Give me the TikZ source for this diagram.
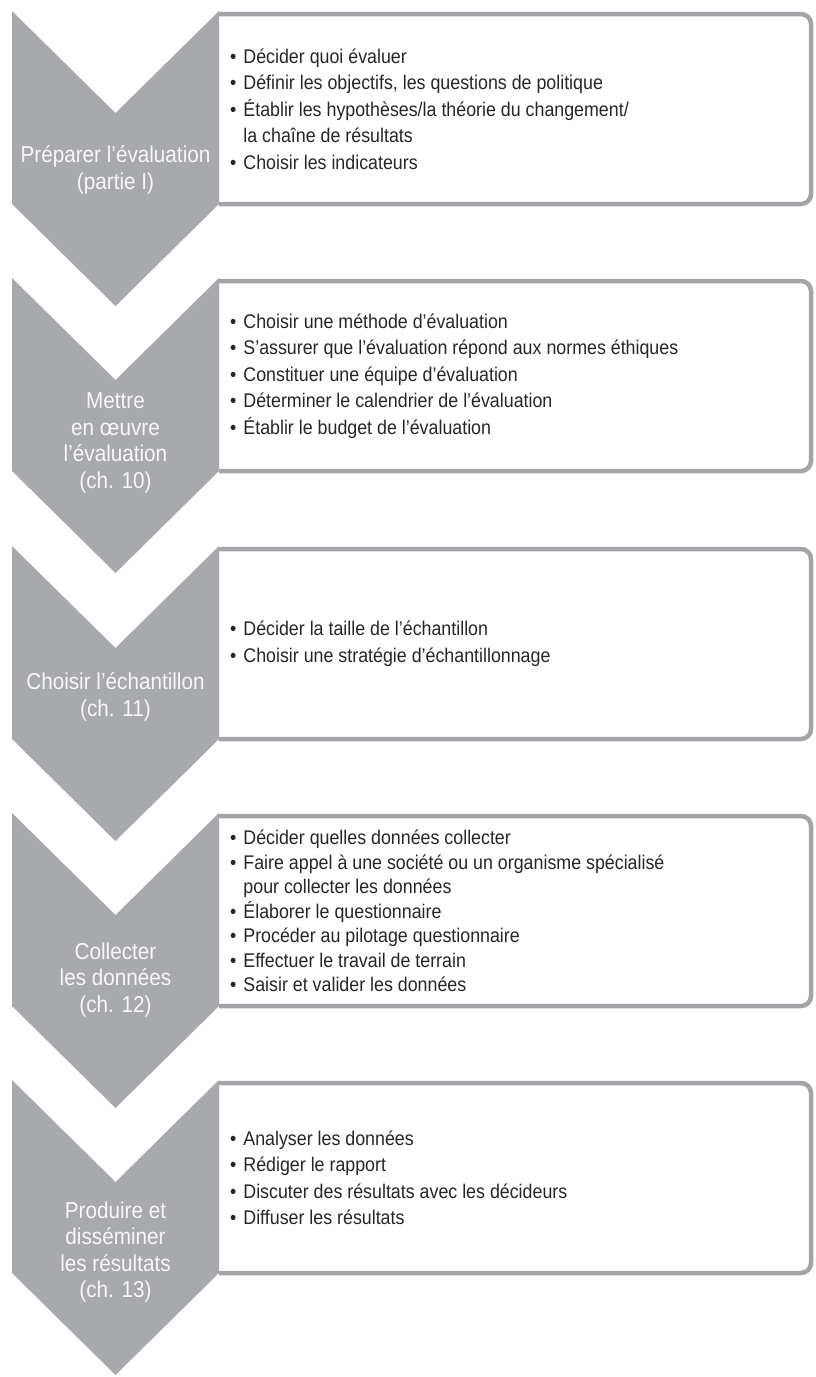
\documentclass[tikz,border=0pt]{standalone}
\usepackage{fontspec}
\setmainfont[FakeStretch=0.9]{Liberation Sans}
\definecolor{stagegray}{RGB}{167,169,172}
\definecolor{framegray}{RGB}{162,164,167}
\definecolor{listtext}{RGB}{40,37,38}
\newcommand{\bul}{\textbullet\hspace{7pt}}
\newcommand{\contline}{\hphantom{\textbullet\hspace{7pt}}}
\tikzset{
    chevron/.style={fill=stagegray, draw=none},
    stageframe/.style={draw=framegray, line width=4.5pt, rounded corners=10pt},
    stagelabel/.style={text=white!97!black, align=center, inner sep=0pt, font=\fontsize{23}{26.5}\selectfont},
    steplist/.style={text=listtext, align=left, anchor=west, inner sep=0pt, font=\fontsize{19.8}{26.5}\selectfont},
}

\begin{document}
\begin{tikzpicture}[x=1pt, y=-1pt]
\useasboundingbox (0,0) rectangle (815,1377);

% Stage 1: prepare
\draw[stageframe] (219,14) -- (811,14) -- (811,204) -- (219,204);
\fill[chevron] (12,11) -- (115.5,113) -- (219,11) -- (219,204) -- (115.5,306) -- (12,204) -- cycle;
\node[stagelabel] (prep-label) at (115.5,170) {Préparer l’évaluation\\(partie I)};
\node[steplist] (prep-list) at (230,109) {\bul Décider quoi évaluer\\
  \bul Définir les objectifs, les questions de politique\\
  \bul Établir les hypothèses/la théorie du changement/\\
  \contline la chaîne de résultats\\
  \bul Choisir les indicateurs};

% Stage 2: implement
\draw[stageframe] (219,281) -- (811,281) -- (811,471) -- (219,471);
\fill[chevron] (12,278) -- (115.5,380) -- (219,278) -- (219,471) -- (115.5,573) -- (12,471) -- cycle;
\node[stagelabel] (impl-label) at (115.5,443) {Mettre\\en œuvre\\l’évaluation\\(ch. 10)};
\node[steplist] (impl-list) at (230,376) {\bul Choisir une méthode d’évaluation\\
  \bul S’assurer que l’évaluation répond aux normes éthiques\\
  \bul Constituer une équipe d’évaluation\\
  \bul Déterminer le calendrier de l’évaluation\\
  \bul Établir le budget de l’évaluation};

% Stage 3: sample
\draw[stageframe] (219,549) -- (811,549) -- (811,739) -- (219,739);
\fill[chevron] (12,546) -- (115.5,648) -- (219,546) -- (219,739) -- (115.5,841) -- (12,739) -- cycle;
\node[stagelabel] (samp-label) at (115.5,697) {Choisir l’échantillon\\(ch. 11)};
\node[steplist] (samp-list) at (230,644) {\bul Décider la taille de l’échantillon\\
  \bul Choisir une stratégie d’échantillonnage};

% Stage 4: collect
\draw[stageframe] (219,816) -- (811,816) -- (811,1006) -- (219,1006);
\fill[chevron] (12,813) -- (115.5,915) -- (219,813) -- (219,1006) -- (115.5,1108) -- (12,1006) -- cycle;
\node[stagelabel] (coll-label) at (115.5,980) {Collecter\\les données\\(ch. 12)};
\node[steplist, font=\fontsize{19.8}{24.5}\selectfont] (coll-list) at (230,911) {\bul Décider quelles données collecter\\
  \bul Faire appel à une société ou un organisme spécialisé\\
  \contline pour collecter les données\\
  \bul Élaborer le questionnaire\\
  \bul Procéder au pilotage questionnaire\\
  \bul Effectuer le travail de terrain\\
  \bul Saisir et valider les données};

% Stage 5: produce and disseminate
\draw[stageframe] (219,1083) -- (811,1083) -- (811,1273) -- (219,1273);
\fill[chevron] (12,1080) -- (115.5,1182) -- (219,1080) -- (219,1273) -- (115.5,1375) -- (12,1273) -- cycle;
\node[stagelabel] (prod-label) at (115.5,1252) {Produire et\\disséminer\\les résultats\\(ch. 13)};
\node[steplist] (prod-list) at (230,1178) {\bul Analyser les données\\
  \bul Rédiger le rapport\\
  \bul Discuter des résultats avec les décideurs\\
  \bul Diffuser les résultats};

\end{tikzpicture}
\end{document}
